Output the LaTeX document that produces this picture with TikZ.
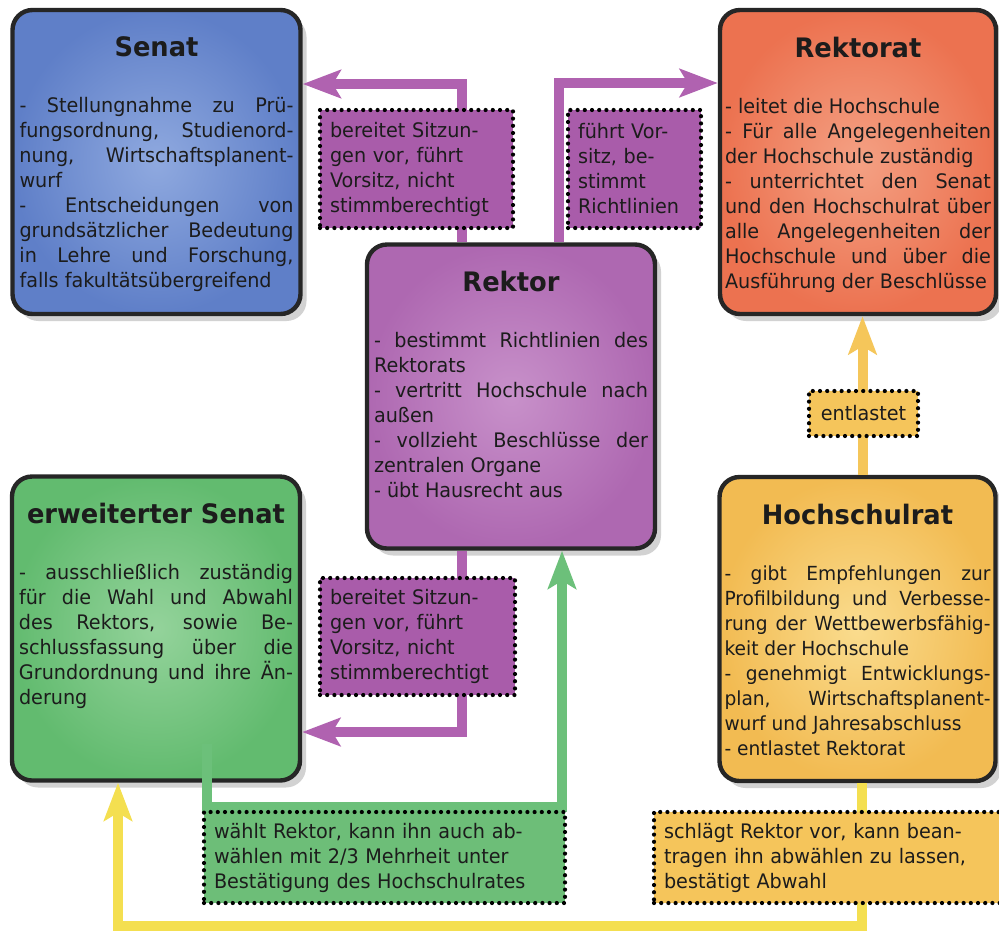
\documentclass[tikz,border=0pt]{standalone}
\usepackage{fontspec}
\setmainfont[FakeStretch=0.96]{DejaVu Sans}
\usetikzlibrary{arrows.meta,calc,shadows}

\definecolor{boxline}{HTML}{262626}
\definecolor{textcol}{HTML}{1C1C1C}
\definecolor{senatIn}{HTML}{8FA9DF}
\definecolor{senatOut}{HTML}{5F7FC8}
\definecolor{rektoratIn}{HTML}{F4A184}
\definecolor{rektoratOut}{HTML}{EC7250}
\definecolor{rektorIn}{HTML}{C891CA}
\definecolor{rektorOut}{HTML}{AE68B1}
\definecolor{erwIn}{HTML}{94D39B}
\definecolor{erwOut}{HTML}{62BB6F}
\definecolor{hrIn}{HTML}{FADC8E}
\definecolor{hrOut}{HTML}{F2BB52}
\definecolor{purpleLab}{HTML}{A95CAA}
\definecolor{greenLab}{HTML}{6DBE78}
\definecolor{yellowLab}{HTML}{F5C55B}
\definecolor{purpleArr}{HTML}{B062B0}
\definecolor{greenArr}{HTML}{6CC07A}
\definecolor{yellowArr}{HTML}{F4DF50}
\definecolor{goldArr}{HTML}{F5C65A}

\tolerance=10000
\hbadness=10000
\parskip=0pt

\begin{document}
\begin{tikzpicture}[
		x=0.5pt, y=0.5pt,
		box/.style={rectangle, rounded corners=10pt, draw=boxline, line width=2.2pt,
			drop shadow={shadow xshift=3pt, shadow yshift=-3.5pt, opacity=.35},
			text width=137pt, minimum width=144pt, inner xsep=2pt, inner ysep=0pt,
			align=justify, text=textcol, font=\fontsize{10}{12.5}\selectfont,
			execute at begin node={\vbox to 152pt\bgroup\vskip13.5pt{\centering\fontsize{13.4}{15}\selectfont\bfseries #1\endgraf}\vskip15.5pt},
			execute at end node={\vfil\egroup}},
		lab/.style={rectangle, draw=black, line width=2.1pt, line cap=round, dash pattern=on 0pt off 3.6pt,
			inner xsep=5pt, inner ysep=4pt, align=left, text=textcol, font=\fontsize{10}{12.5}\selectfont},
		arr/.style={line width=5pt, -{Stealth[length=19pt, width=14pt, inset=4pt]}}
	]
	\fill[white] (0,0) rectangle (999,-938);
	\useasboundingbox (0,0) rectangle (999,-938);

	% the five bodies
	\node[box=Senat, inner color=senatIn, outer color=senatOut] (Senat) at (156.5,-162)
		{- Stellungnahme zu Prü-\linebreak fungsordnung, Studienord-\linebreak nung, Wirtschaftsplanent-\linebreak wurf\par
		- Entscheidungen von\linebreak grundsätzlicher Bedeutung\linebreak in Lehre und Forschung,\linebreak falls fakultätsübergreifend};
	\node[box=Rektorat, inner color=rektoratIn, outer color=rektoratOut, text width=133pt, minimum width=138pt] (Rektorat) at (858,-162)
		{- leitet die Hochschule\par
		- Für alle Angelegenheiten\linebreak der Hochschule zuständig\par
		- unterrichtet den Senat\linebreak und den Hochschulrat über\linebreak alle Angelegenheiten der\linebreak Hochschule und über die\linebreak Ausführung der Beschlüsse};
	\node[box=Rektor, inner color=rektorIn, outer color=rektorOut] (Rektor) at (511,-396.5)
		{- bestimmt Richtlinien des\linebreak Rektorats\par
		- vertritt Hochschule nach\linebreak außen\par
		- vollzieht Beschlüsse der\linebreak zentralen Organe\par
		- übt Hausrecht aus};
	\node[box={erweiterter Senat}, inner color=erwIn, outer color=erwOut] (ErwSenat) at (156,-628.5)
		{- ausschließlich zuständig\linebreak für die Wahl und Abwahl\linebreak des Rektors, sowie Be-\linebreak schlussfassung über die\linebreak Grundordnung und ihre Än-\linebreak derung};
	\node[box=Hochschulrat, inner color=hrIn, outer color=hrOut, text width=133pt, minimum width=138pt,
		font=\fontsize{9.7}{12.5}\selectfont] (Hochschulrat) at (857.5,-629)
		{- gibt Empfehlungen zur\linebreak Profilbildung und Verbesse-\linebreak rung der Wettbewerbsfähig-\linebreak keit der Hochschule\par
		- genehmigt Entwicklungs-\linebreak plan, Wirtschaftsplanent-\linebreak wurf und Jahresabschluss\par
		- entlastet Rektorat};

	% connectors
	\draw[arr, purpleArr] ($(Rektor.north)+(-49,0)$) |- ($(Senat.east)+(0,78)$);
	\draw[arr, purpleArr] ($(Rektor.north)+(48,0)$) |- ($(Rektorat.west)+(0,79)$);
	\draw[arr, purpleArr] ($(Rektor.south)+(-49,0)$) |- ($(ErwSenat.east)+(0,-103.5)$);
	\draw[arr, greenArr] ($(ErwSenat.south)+(51,39)$) |- ($(Rektor.south)+(51,-256)$) -- ($(Rektor.south)+(51,0)$);
	\draw[arr, yellowArr] ($(Hochschulrat.south)+(4.5,0)$) |- ($(ErwSenat.south)+(-38,-143)$) -- ($(ErwSenat.south)+(-38,0)$);
	\draw[arr, goldArr] ($(Hochschulrat.north)+(5,0)$) -- ($(Rektorat.south)+(4.5,0)$);

	% labels
	\node[lab, fill=purpleLab, text width=86.5pt, minimum width=96.5pt, minimum height=59pt] (SitzungSenat) at (416.5,-169)
		{bereitet Sitzun-\\gen vor, führt\\Vorsitz, nicht\\stimmberechtigt};
	\node[lab, fill=purpleLab, text width=56.5pt, minimum width=66.5pt, minimum height=59pt] (VorsitzRektorat) at (634.5,-169)
		{führt Vor-\\sitz, be-\\stimmt\\Richtlinien};
	\node[lab, fill=purpleLab, text width=87.5pt, minimum width=97.5pt, minimum height=58.5pt] (SitzungErw) at (417.5,-636.5)
		{bereitet Sitzun-\\gen vor, führt\\Vorsitz, nicht\\stimmberechtigt};
	\node[lab, fill=yellowLab, minimum width=54.5pt, minimum height=22.5pt] (Entlastet) at (863.5,-413.5) {entlastet};
	\node[lab, fill=greenLab, text width=170.5pt, minimum width=180.5pt, minimum height=45.5pt] (Wahl) at (384.5,-857.5)
		{wählt Rektor, kann ihn auch ab-\\wählen mit 2/3 Mehrheit unter\\Bestätigung des Hochschulrates};
	\node[lab, fill=yellowLab, text width=165pt, minimum width=175pt, minimum height=45.5pt] (Vorschlag) at (829,-857.5)
		{schlägt Rektor vor, kann bean-\\tragen ihn abwählen zu lassen,\\bestätigt Abwahl};
\end{tikzpicture}
\end{document}
